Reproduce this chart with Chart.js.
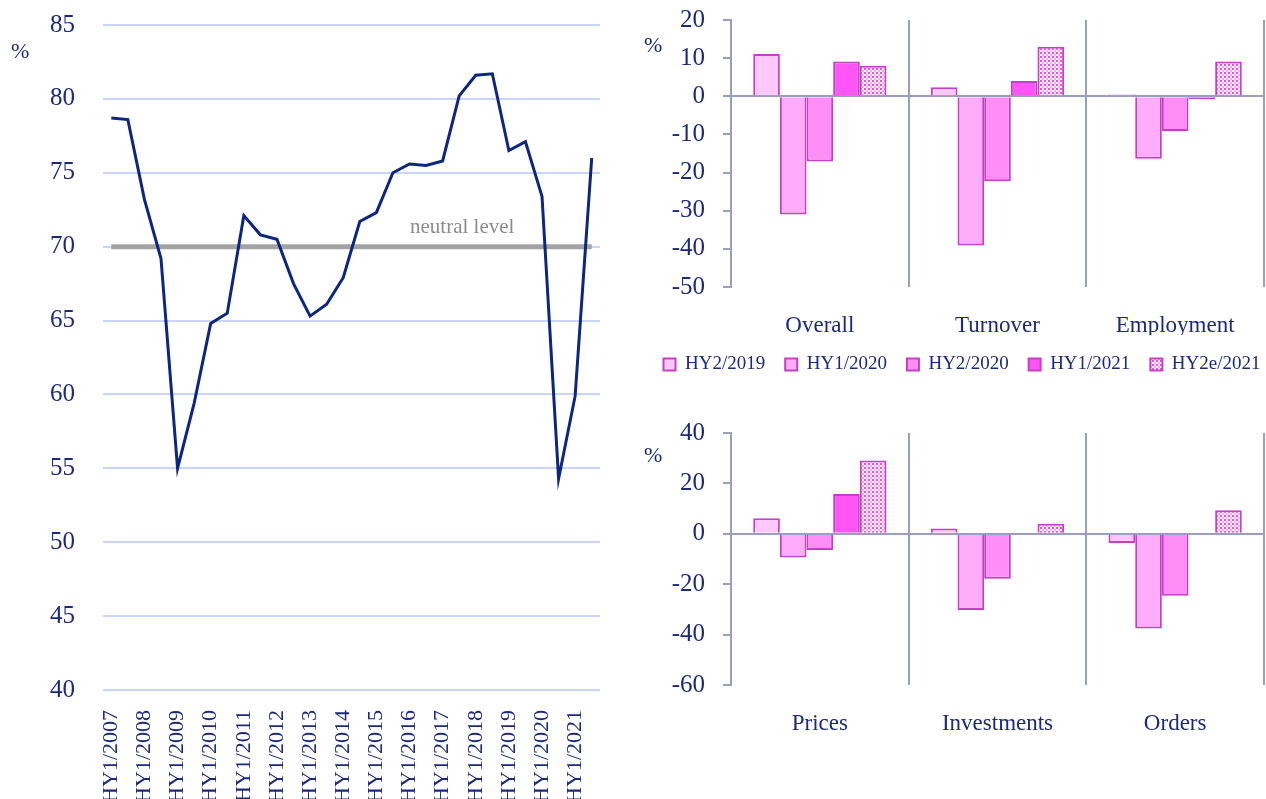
<!DOCTYPE html>
<html>
<head>
<meta charset="utf-8">
<script src="https://cdn.jsdelivr.net/npm/chart.js@4.4.1/dist/chart.umd.min.js"></script>
<style>
  html, body { margin: 0; padding: 0; background: #fff; overflow: hidden; }
  #wrap { position: relative; width: 1266px; height: 799px; font-family: "Liberation Serif", serif; color: #1d2a7c; }
  .box { position: absolute; }
  .pct { position: absolute; font-size: 22px; line-height: 22px; }
</style>
</head>
<body>
<div id="wrap">
  <div class="box" style="left:0;top:0;width:620px;height:799px"><canvas id="climate"></canvas></div>
  <div class="box" style="left:620px;top:0;width:646px;height:395px"><canvas id="expTop"></canvas></div>
  <div class="box" style="left:620px;top:395px;width:646px;height:404px"><canvas id="expBottom"></canvas></div>
  <span class="pct" style="left:11px;top:40px">%</span>
  <span class="pct" style="left:644px;top:34px">%</span>
  <span class="pct" style="left:644px;top:444px">%</span>
</div>
<script>
// left chart: business climate, half-yearly
const halfYears = [
  'HY1/2007','HY2/2007','HY1/2008','HY2/2008','HY1/2009','HY2/2009','HY1/2010','HY2/2010',
  'HY1/2011','HY2/2011','HY1/2012','HY2/2012','HY1/2013','HY2/2013','HY1/2014','HY2/2014',
  'HY1/2015','HY2/2015','HY1/2016','HY2/2016','HY1/2017','HY2/2017','HY1/2018','HY2/2018',
  'HY1/2019','HY2/2019','HY1/2020','HY2/2020','HY1/2021','HY2/2021'
];
const climateIndex = [
  78.7, 78.6, 73.2, 69.2, 55.0, 59.4, 64.8, 65.5, 72.1, 70.8,
  70.5, 67.5, 65.3, 66.1, 67.9, 71.7, 72.3, 75.0, 75.6, 75.5,
  75.8, 80.2, 81.6, 81.7, 76.5, 77.1, 73.4, 54.3, 59.9, 76.0
];
const neutralLevel = 70;
const climateTicks = [40, 45, 50, 55, 60, 65, 70, 75, 80, 85];

// right charts: expectations by period
const periods = ['HY2/2019', 'HY1/2020', 'HY2/2020', 'HY1/2021', 'HY2e/2021'];
const topCategories = ['Overall', 'Turnover', 'Employment'];
const hy2_2019Top = [11.1, 2.4, 0.5];
const hy1_2020Top = [-31.0, -39.1, -16.4];
const hy2_2020Top = [-17.1, -22.3, -9.1];
const hy1_2021Top = [9.1, 4.0, -0.7];
const hy2e_2021Top = [8.0, 13.0, 9.1];

const bottomCategories = ['Prices', 'Investments', 'Orders'];
const hy2_2019Bottom = [6.2, 2.1, -3.7];
const hy1_2020Bottom = [-9.4, -30.2, -37.6];
const hy2_2020Bottom = [-6.4, -17.8, -24.6];
const hy1_2021Bottom = [15.8, 0.5, 0];
const hy2e_2021Bottom = [29.1, 4.0, 9.3];

const navy = '#1d2a7c';
const lineBlue = '#0d2680';
const gridBlue = '#c9d5fa';
const axisGrey = '#9a9ec0';
const barBorder = '#c640c4';
const fontFam = '"Liberation Serif", serif';

// dotted fill for the estimate bars
function dotPattern() {
  const c = document.createElement('canvas');
  c.width = 4; c.height = 4;
  const g = c.getContext('2d');
  g.fillStyle = '#ffffff';
  g.fillRect(0, 0, 4, 4);
  g.fillStyle = '#ff40f0';
  g.fillRect(0, 0, 2, 2);
  g.fillStyle = '#ffa6f7';
  g.fillRect(2, 2, 2, 2);
  return g.createPattern(c, 'repeat');
}
const dots = dotPattern();
const barFills = ['#ffc8fc', '#ffacfb', '#ff8ef6', '#ff55f7', dots];

const neutralLabel = {
  id: 'neutralLabel',
  afterDatasetsDraw(chart) {
    const { ctx, scales } = chart;
    ctx.save();
    ctx.font = '21px ' + fontFam;
    ctx.fillStyle = '#8c8c8c';
    ctx.textAlign = 'center';
    ctx.textBaseline = 'alphabetic';
    ctx.fillText('neutral level', scales.x.getPixelForValue(21) + 3, scales.y.getPixelForValue(neutralLevel) - 14);
    ctx.restore();
  }
};

// tick label overhang would otherwise push the plot area in
function noOverhang(scale) {
  scale.paddingTop = 0;
  scale.paddingBottom = 0;
  scale.paddingLeft = 0;
  scale.paddingRight = 0;
}

new Chart(document.getElementById('climate'), {
  type: 'line',
  data: {
    labels: halfYears,
    datasets: [
      {
        data: climateIndex,
        borderColor: lineBlue,
        borderWidth: 3,
        pointRadius: 0,
        tension: 0
      },
      {
        data: halfYears.map(() => neutralLevel),
        borderColor: '#a3a3a3',
        borderWidth: 5,
        pointRadius: 0
      }
    ]
  },
  options: {
    responsive: true,
    maintainAspectRatio: false,
    animation: false,
    layout: { padding: { top: 25, right: 20, bottom: 0, left: 0 } },
    plugins: { legend: { display: false }, tooltip: { enabled: false } },
    scales: {
      x: {
        offset: true,
        grid: { display: false },
        border: { display: false },
        afterFit(scale) { scale.height = 109; noOverhang(scale); },
        ticks: {
          autoSkip: false,
          minRotation: 90,
          maxRotation: 90,
          padding: 12,
          color: navy,
          font: { size: 22, family: fontFam },
          callback(val, i) { return i % 2 === 0 ? halfYears[i] : ''; }
        }
      },
      y: {
        min: 40,
        max: 85,
        afterFit(scale) { scale.width = 103; noOverhang(scale); },
        afterBuildTicks(scale) { scale.ticks = climateTicks.map(v => ({ value: v })); },
        grid: { color: gridBlue, lineWidth: 2, drawTicks: false },
        border: { display: false },
        ticks: { color: navy, padding: 28, font: { size: 25, family: fontFam } }
      }
    }
  },
  plugins: [neutralLabel]
});

function barSets(series) {
  return periods.map((p, i) => ({
    label: p,
    data: series[i],
    backgroundColor: barFills[i],
    borderColor: barBorder,
    borderWidth: 2,
    categoryPercentage: 0.75,
    barPercentage: 1.0
  }));
}

function barOptions(yMin, yMax, step, pad, xHeight, showLegend) {
  return {
    responsive: true,
    maintainAspectRatio: false,
    animation: false,
    layout: { padding: pad },
    plugins: {
      tooltip: { enabled: false },
      legend: {
        display: showLegend,
        position: 'bottom',
        labels: {
          boxWidth: 12,
          boxHeight: 12,
          padding: 20,
          color: navy,
          font: { size: 19, family: fontFam }
        }
      }
    },
    scales: {
      x: {
        grid: { offset: true, color: axisGrey, lineWidth: 2, drawTicks: false },
        border: { display: false },
        afterFit(scale) { scale.height = xHeight; noOverhang(scale); },
        ticks: { color: navy, padding: 25, font: { size: 23, family: fontFam } }
      },
      y: {
        min: yMin,
        max: yMax,
        afterFit(scale) { scale.width = 111; noOverhang(scale); },
        grid: {
          color: ctx => (ctx.tick && ctx.tick.value === 0 ? axisGrey : 'rgba(0,0,0,0)'),
          tickColor: axisGrey,
          tickLength: 8,
          lineWidth: 2
        },
        border: { color: axisGrey, width: 2 },
        ticks: { stepSize: step, color: navy, padding: 18, font: { size: 25, family: fontFam } }
      }
    }
  };
}

// the legend sits a bit right of the canvas centre in the original
const legendShift = {
  id: 'legendShift',
  afterLayout(chart) {
    if (chart.legend) { chart.legend.left += 20; chart.legend.right += 20; }
  }
};

new Chart(document.getElementById('expTop'), {
  type: 'bar',
  data: {
    labels: topCategories,
    datasets: barSets([hy2_2019Top, hy1_2020Top, hy2_2020Top, hy1_2021Top, hy2e_2021Top])
  },
  options: barOptions(-50, 20, 10, { top: 20, right: 2, bottom: 11, left: 0 }, 48, true),
  plugins: [legendShift]
});

new Chart(document.getElementById('expBottom'), {
  type: 'bar',
  data: {
    labels: bottomCategories,
    datasets: barSets([hy2_2019Bottom, hy1_2020Bottom, hy2_2020Bottom, hy1_2021Bottom, hy2e_2021Bottom])
  },
  options: barOptions(-60, 40, 20, { top: 38, right: 2, bottom: 0, left: 0 }, 114, false)
});
</script>
</body>
</html>
